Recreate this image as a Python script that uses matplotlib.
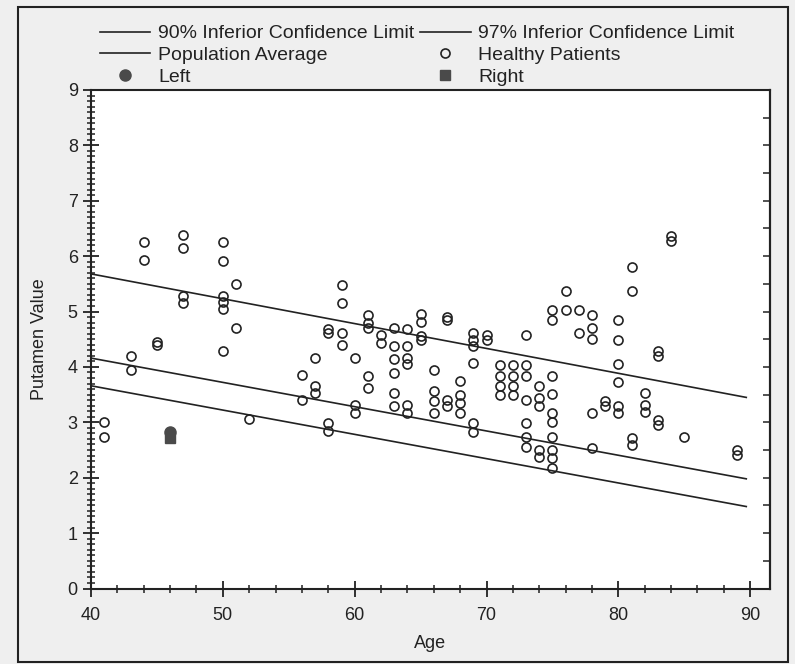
import numpy as np
import matplotlib
matplotlib.use('Agg')
from matplotlib import pyplot as plt
from matplotlib.patches import Rectangle
from matplotlib.ticker import MultipleLocator, NullFormatter

plt.rcParams['font.family'] = ['Liberation Sans', 'DejaVu Sans']

# Linee di riferimento (estremi)
line_age = np.array([40.0, 89.7])
pop_avg = np.array([5.68, 3.45])
lim_90 = np.array([4.16, 1.98])
lim_97 = np.array([3.66, 1.48])

# Pazienti sani: eta' e valori corrispondenti
healthy_age = [41, 43, 44, 45, 47, 50, 51, 52, 56, 57, 58, 59, 60, 61, 62, 63,
               64, 65, 66, 67, 68, 69, 70, 71, 72, 73, 74, 75, 76, 77, 78, 79,
               80, 81, 82, 83, 84, 85, 89]
healthy_val = [
    [3.01, 2.74],
    [4.19, 3.95],
    [6.26, 5.93],
    [4.45, 4.40],
    [6.39, 6.15, 5.28, 5.15],
    [6.25, 5.92, 5.28, 5.18, 5.05, 4.28],
    [5.50, 4.70],
    [3.06],
    [3.86, 3.40],
    [4.16, 3.65, 3.53],
    [4.68, 4.62, 2.98, 2.85],
    [5.48, 5.15, 4.61, 4.40],
    [4.16, 3.32, 3.17],
    [4.94, 4.79, 4.70, 3.83, 3.62],
    [4.58, 4.43],
    [4.70, 4.38, 4.14, 3.89, 3.53, 3.29],
    [4.68, 4.37, 4.16, 4.06, 3.32, 3.17],
    [4.96, 4.82, 4.55, 4.49],
    [3.95, 3.56, 3.38, 3.17],
    [4.90, 4.84, 3.41, 3.29],
    [3.74, 3.50, 3.35, 3.17],
    [4.61, 4.49, 4.37, 4.07, 2.98, 2.83],
    [4.58, 4.49],
    [4.04, 3.84, 3.65, 3.50],
    [4.04, 3.84, 3.65, 3.50],
    [4.58, 4.04, 3.83, 3.41, 2.98, 2.74, 2.56],
    [3.65, 3.44, 3.29, 2.50, 2.38],
    [5.03, 4.84, 3.84, 3.52, 3.17, 3.01, 2.74, 2.50, 2.35, 2.17],
    [5.38, 5.03],
    [5.03, 4.61],
    [4.94, 4.70, 4.50, 3.17, 2.53],
    [3.38, 3.29],
    [4.84, 4.49, 4.06, 3.72, 3.29, 3.17],
    [5.81, 5.38, 2.71, 2.59],
    [3.53, 3.32, 3.18],
    [4.28, 4.19, 3.04, 2.95],
    [6.36, 6.27],
    [2.74],
    [2.50, 2.41],
]
x_h = np.concatenate([[a] * len(v) for a, v in zip(healthy_age, healthy_val)])
y_h = np.concatenate(healthy_val)

# Paziente in esame
left_age, left_val = [46], [2.82]
right_age, right_val = [46], [2.72]

fig = plt.figure(figsize=(7.95, 6.64), dpi=100, facecolor='#efefef')
ax = fig.add_axes([91 / 795, 1 - 588.5 / 664, 679 / 795, 498.5 / 664])
ax.set_facecolor('white')

# Cornice esterna della figura
fig.patches.append(Rectangle((18 / 795, 2 / 664), 770 / 795, 655 / 664,
                             transform=fig.transFigure, fill=False,
                             edgecolor='#222222', lw=1.5))

l90, = ax.plot(line_age, lim_90, color='#222222', lw=1.2)
l97, = ax.plot(line_age, lim_97, color='#222222', lw=1.2)
lav, = ax.plot(line_age, pop_avg, color='#222222', lw=1.2)
hp, = ax.plot(x_h, y_h, 'o', ms=6.5, mfc='none', mec='#222222', mew=1.2, ls='none')
lp, = ax.plot(left_age, left_val, 'o', ms=8, color='#4a4a4a', ls='none')
rp, = ax.plot(right_age, right_val, 's', ms=7, color='#4a4a4a', ls='none')

ax.set_xlim(40, 91.5)
ax.set_ylim(0, 9)
ax.xaxis.set_major_locator(MultipleLocator(10))
ax.xaxis.set_minor_locator(MultipleLocator(2))
ax.yaxis.set_major_locator(MultipleLocator(1))
ax.yaxis.set_minor_locator(MultipleLocator(0.1))
ax.tick_params(which='major', direction='inout', length=12, width=1.3,
               labelsize=13, color='#222222', labelcolor='#222222')
ax.tick_params(which='minor', direction='inout', length=6, width=1.1,
               color='#222222')
ax.tick_params(axis='x', which='major', pad=7)
for s in ax.spines.values():
    s.set_linewidth(1.5)
    s.set_color('#222222')

# Tacche sul lato destro
ax_r = ax.secondary_yaxis('right')
ax_r.yaxis.set_major_locator(MultipleLocator(0.5))
ax_r.yaxis.set_major_formatter(NullFormatter())
ax_r.tick_params(direction='in', length=5, width=1.1, color='#222222')
ax_r.spines['right'].set_linewidth(1.5)

ax.set_xlabel('Age', fontsize=13, color='#222222', labelpad=8)
ax.set_ylabel('Putamen Value', fontsize=13, color='#222222', labelpad=14)

handles = [l90, lav, lp, l97, hp, rp]
labels = ['90% Inferior Confidence Limit', 'Population Average', 'Left',
          '97% Inferior Confidence Limit', 'Healthy Patients', 'Right']
fig.legend(handles, labels, ncol=2, loc='upper left',
           bbox_to_anchor=(90 / 795, 1 - 15 / 664), frameon=False,
           fontsize=14, handlelength=2.6, columnspacing=0.3,
           handletextpad=0.4, labelspacing=0.22, borderpad=0,
           labelcolor='#222222')

plt.savefig('out.png', dpi=100, facecolor=fig.get_facecolor())
